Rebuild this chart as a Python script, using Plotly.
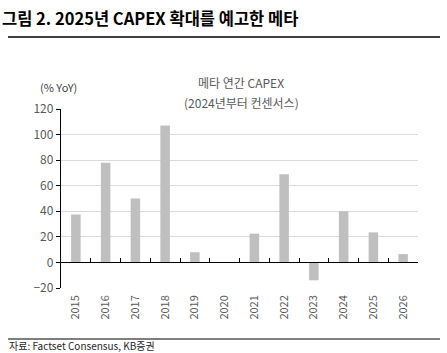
import plotly.graph_objects as go

years = ["2015", "2016", "2017", "2018", "2019", "2020", "2021", "2022", "2023", "2024", "2025", "2026"]
capex_yoy = [37.5, 78, 50, 107, 8, 0.3, 22.5, 69, -14, 40, 23.5, 6.5]
y_ticks = [-20, 0, 20, 40, 60, 80, 100, 120]

FONT = "Noto Sans CJK KR"
GRAY = "#595959"

fig = go.Figure()
fig.add_trace(go.Bar(x=years, y=capex_yoy, marker=dict(color="#BFBFBF", line=dict(width=0)),
                     width=0.32, xaxis="x", yaxis="y"))
# invisible trace to bind the zero-line axis
fig.add_trace(go.Bar(x=years, y=[0] * len(years), xaxis="x2", yaxis="y",
                     marker=dict(color="rgba(0,0,0,0)"), showlegend=False, hoverinfo="skip"))

fig.update_layout(
    width=447, height=353,
    margin=dict(l=61, r=29, t=109, b=65),
    paper_bgcolor="white", plot_bgcolor="white",
    showlegend=False, barmode="overlay",
    font=dict(family=FONT, color=GRAY, size=12),
    xaxis=dict(type="category", showline=False, ticks="", showgrid=False,
               tickangle=-90, tickfont=dict(size=11, color=GRAY), ticklabelstandoff=4),
    xaxis2=dict(type="category", overlaying="x", matches="x", anchor="free", position=20 / 140,
                showline=True, linecolor="black", linewidth=1.3, ticks="inside", ticklen=4,
                tickcolor="black", tickson="boundaries", showticklabels=False, showgrid=False),
    yaxis=dict(range=[-20, 120], tickvals=y_ticks, showgrid=True, gridcolor="#D9D9D9", gridwidth=1,
               showline=True, linecolor="black", linewidth=1.3, ticks="outside", ticklen=4,
               tickcolor="black", zeroline=False, tickfont=dict(size=12, color=GRAY)),
)

fig.add_annotation(text="<b>그림 2. 2025년 CAPEX 확대를 예고한 메타</b>", xref="paper", yref="paper",
                   x=-61 / 357, y=1 + (109 - 18) / 179, xanchor="left", yanchor="middle", showarrow=False,
                   font=dict(size=16.5, color="black", family=FONT))
fig.add_annotation(text="(% YoY)", xref="paper", yref="paper", x=-23 / 357, y=1 + (109 - 87) / 179,
                   xanchor="left", yanchor="middle", showarrow=False, font=dict(size=11, color="#404040"))
fig.add_annotation(text="메타 연간 CAPEX", xref="paper", yref="paper", x=(241 - 61) / 357, y=1 + (109 - 82) / 179,
                   xanchor="center", yanchor="middle", showarrow=False, font=dict(size=12, color=GRAY))
fig.add_annotation(text="(2024년부터 컨센서스)", xref="paper", yref="paper", x=(241 - 61) / 357,
                   y=1 + (109 - 103) / 179, xanchor="center", yanchor="middle", showarrow=False,
                   font=dict(size=12, color=GRAY))
fig.add_annotation(text="자료: Factset Consensus, KB증권", xref="paper", yref="paper", x=-54 / 357,
                   y=-(345 - 288) / 179, xanchor="left", yanchor="middle", showarrow=False,
                   font=dict(size=10, color="#262626"))

# header & footer rules
fig.add_shape(type="line", xref="paper", yref="paper", x0=-53 / 357, x1=(440 - 61) / 357,
              y0=1 + (109 - 37) / 179, y1=1 + (109 - 37) / 179, line=dict(color="black", width=1.5))
fig.add_shape(type="line", xref="paper", yref="paper", x0=-53 / 357, x1=(440 - 61) / 357,
              y0=-(339 - 288) / 179, y1=-(339 - 288) / 179, line=dict(color="black", width=1.2))

fig.write_html("out.html")
